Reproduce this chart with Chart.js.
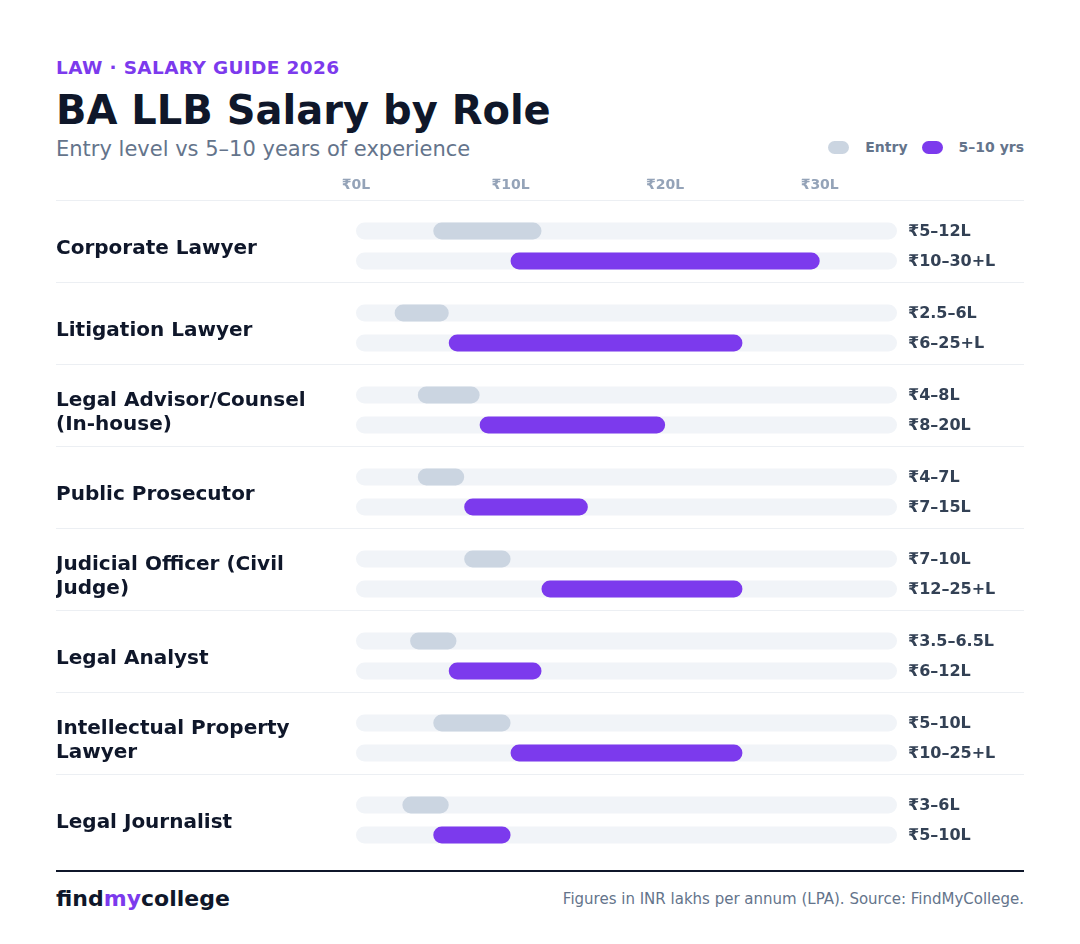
<!DOCTYPE html>
<html>
<head>
<meta charset="utf-8">
<script src="https://cdn.jsdelivr.net/npm/chart.js@4"></script>
<style>
  body { margin: 0; background: #fff; font-family: "DejaVu Sans", sans-serif; }
  .page { position: relative; width: 1080px; height: 944px; }
  .eyebrow { position: absolute; left: 56px; top: 57px; font-size: 18.5px; font-weight: bold; color: #7c3aed; letter-spacing: 0.35px; }
  h1 { position: absolute; left: 56px; top: 87px; margin: 0; font-size: 40px; font-weight: bold; color: #0f172a; }
  .sub { position: absolute; left: 56px; top: 137px; font-size: 21px; color: #64748b; }
  .legend { position: absolute; right: 56px; top: 139px; display: flex; align-items: center; font-size: 14px; font-weight: bold; color: #64748b; }
  .legend .sw { width: 21px; height: 13px; border-radius: 7px; margin-right: 16px; }
  .legend span { margin-right: 14px; }
  .legend span:last-child { margin-right: 0; }
  .chart { position: absolute; left: 56px; top: 173px; width: 968px; height: 688px; }
  .foot { position: absolute; left: 56px; top: 870px; width: 968px; border-top: 2px solid #0f172a; }
  .brand { position: absolute; left: 56px; top: 886px; font-size: 22px; font-weight: bold; color: #0f172a; }
  .brand b { color: #7c3aed; }
  .src { position: absolute; right: 56px; top: 890px; font-size: 15px; color: #64748b; }
</style>
</head>
<body>
<div class="page">
  <div class="eyebrow">LAW · SALARY GUIDE 2026</div>
  <h1>BA LLB Salary by Role</h1>
  <div class="sub">Entry level vs 5–10 years of experience</div>
  <div class="legend">
    <div class="sw" style="background:#cbd5e1"></div><span>Entry</span>
    <div class="sw" style="background:#7c3aed"></div><span>5–10 yrs</span>
  </div>
  <div class="chart"><canvas id="salaryChart"></canvas></div>
  <div class="foot"></div>
  <div class="brand">find<b>my</b>college</div>
  <div class="src">Figures in INR lakhs per annum (LPA). Source: FindMyCollege.</div>
</div>
<script>
const roles = [
  ["Corporate Lawyer"],
  ["Litigation Lawyer"],
  ["Legal Advisor/Counsel", "(In-house)"],
  ["Public Prosecutor"],
  ["Judicial Officer (Civil", "Judge)"],
  ["Legal Analyst"],
  ["Intellectual Property", "Lawyer"],
  ["Legal Journalist"]
];
const entryRange = [[5, 12], [2.5, 6], [4, 8], [4, 7], [7, 10], [3.5, 6.5], [5, 10], [3, 6]];
const seniorRange = [[10, 30], [6, 25], [8, 20], [7, 15], [12, 25], [6, 12], [10, 25], [5, 10]];
const entryLabels = ["₹5–12L", "₹2.5–6L", "₹4–8L", "₹4–7L", "₹7–10L", "₹3.5–6.5L", "₹5–10L", "₹3–6L"];
const seniorLabels = ["₹10–30+L", "₹6–25+L", "₹8–20L", "₹7–15L", "₹12–25+L", "₹6–12L", "₹10–25+L", "₹5–10L"];
const xTicks = [0, 10, 20, 30];
const xMax = 35;

const track = roles.map(() => [0, xMax]);
const barOpts = {
  borderRadius: 20,
  borderSkipped: false,
  categoryPercentage: 0.7317,
  barPercentage: 0.567
};

// thin separators above each role, across the whole width
const rowLines = {
  id: "rowLines",
  beforeDatasetsDraw(chart) {
    const ctx = chart.ctx;
    const y = chart.scales.y;
    const half = (y.getPixelForValue(1) - y.getPixelForValue(0)) / 2;
    ctx.save();
    ctx.strokeStyle = "#eceff3";
    ctx.lineWidth = 1;
    roles.forEach((r, i) => {
      const py = Math.round(y.getPixelForValue(i) - half - 5) + 0.5;
      ctx.beginPath();
      ctx.moveTo(0, py);
      ctx.lineTo(chart.width, py);
      ctx.stroke();
    });
    ctx.restore();
  }
};

const valueLabels = {
  id: "valueLabels",
  afterDatasetsDraw(chart) {
    const ctx = chart.ctx;
    const x = chart.chartArea.right + 11;
    ctx.save();
    ctx.font = "bold 16px 'DejaVu Sans'";
    ctx.fillStyle = "#334155";
    ctx.textBaseline = "middle";
    [[0, entryLabels], [1, seniorLabels]].forEach(([di, labels]) => {
      chart.getDatasetMeta(di).data.forEach((bar, i) => {
        ctx.fillText(labels[i], x, bar.y + 1);
      });
    });
    ctx.restore();
  }
};

new Chart(document.getElementById("salaryChart"), {
  type: "bar",
  data: {
    labels: roles,
    datasets: [
      { label: "Entry", data: entryRange, backgroundColor: "#cbd5e1", stack: "e", order: 1, ...barOpts },
      { label: "5–10 yrs", data: seniorRange, backgroundColor: "#7c3aed", stack: "s", order: 1, ...barOpts },
      { label: "track-e", data: track, backgroundColor: "#f1f4f8", stack: "e", order: 2, ...barOpts },
      { label: "track-s", data: track, backgroundColor: "#f1f4f8", stack: "s", order: 2, ...barOpts }
    ]
  },
  options: {
    indexAxis: "y",
    responsive: true,
    maintainAspectRatio: false,
    animation: false,
    layout: { padding: { right: 127, top: 0, bottom: 0 } },
    plugins: {
      legend: { display: false },
      tooltip: { enabled: false }
    },
    scales: {
      x: {
        position: "top",
        stacked: false,
        min: 0,
        max: xMax,
        afterBuildTicks: scale => { scale.ticks = xTicks.map(v => ({ value: v })); },
        afterFit: scale => { scale.height = 32; },
        border: { display: false },
        grid: { display: false, drawTicks: false },
        ticks: {
          padding: 11,
          color: "#94a3b8",
          font: { family: "DejaVu Sans", size: 14, weight: "bold" },
          callback: v => "₹" + v + "L"
        }
      },
      y: {
        stacked: true,
        afterFit: scale => {
          scale.width = 300;
          scale.paddingTop = 0;
          scale.paddingBottom = 0;
        },
        border: { display: false },
        grid: { display: false },
        ticks: {
          crossAlign: "far",
          labelOffset: 3,
          color: "#0f172a",
          font: { family: "DejaVu Sans", size: 20, weight: "bold", lineHeight: 1.2 }
        }
      }
    }
  },
  plugins: [rowLines, valueLabels]
});
</script>
</body>
</html>
